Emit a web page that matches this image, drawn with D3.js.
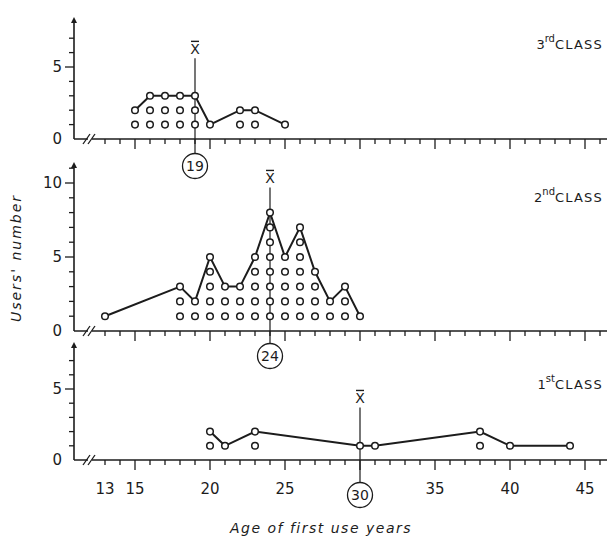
<!DOCTYPE html>
<html>
<head>
<meta charset="utf-8">
<script src="https://cdn.jsdelivr.net/npm/d3@7"></script>
<style>
  body { margin: 0; background: #fff; }
  text { font-family: "DejaVu Sans", sans-serif; fill: #1c1c1c; }
</style>
</head>
<body>
<div id="chart"></div>
<script>
// data: age of first use -> users' number
var ages3 = [15, 16, 17, 18, 19, 20, 22, 23, 25],
    counts3 = [2, 3, 3, 3, 3, 1, 2, 2, 1];
var ages2 = [13, 18, 19, 20, 21, 22, 23, 24, 25, 26, 27, 28, 29, 30],
    counts2 = [1, 3, 2, 5, 3, 3, 5, 8, 5, 7, 4, 2, 3, 1];
var ages1 = [20, 21, 23, 30, 31, 38, 40, 44],
    counts1 = [2, 1, 2, 1, 1, 2, 1, 1];
var means = [19, 24, 30];
var classNames = [["3", "rd"], ["2", "nd"], ["1", "st"]];
var xTickLabels = [13, 15, 20, 25, 35, 40, 45];
var yTickLabels = [[0, 5], [0, 5, 10], [0, 5]];

var width = 607, height = 539;

var svg = d3.select("#chart").append("svg")
    .attr("width", width)
    .attr("height", height);

var x = d3.scaleLinear().domain([13, 45]).range([105, 585]);
var axisX = 74;

// layout of the three panels (top to bottom)
var panels = [
  {ages: ages3, counts: counts3, mean: means[0], name: classNames[0], yTicks: yTickLabels[0],
   y0: 139, unit: 14.4, top: 15, maxTick: 7, meanTop: 5.6, circleDy: 27, labelY: 49},
  {ages: ages2, counts: counts2, mean: means[1], name: classNames[1], yTicks: yTickLabels[1],
   y0: 331, unit: 14.8, top: 160, maxTick: 11, meanTop: 9.7, circleDy: 25, labelY: 202},
  {ages: ages1, counts: counts1, mean: means[2], name: classNames[2], yTicks: yTickLabels[2],
   y0: 460, unit: 14.2, top: 340, maxTick: 7, meanTop: 3.7, circleDy: 35, labelY: 389}
];

var ink = "#1c1c1c";

// arrow head for the y axes
svg.append("defs").append("marker")
    .attr("id", "arrow")
    .attr("viewBox", "0 0 10 10")
    .attr("refX", 5).attr("refY", 10)
    .attr("markerWidth", 6).attr("markerHeight", 8)
    .attr("markerUnits", "userSpaceOnUse")
    .attr("orient", "0")
  .append("path")
    .attr("d", "M0,10 L5,0 L10,10 Z")
    .attr("fill", ink);

panels.forEach(function(p, pi) {
  var y = d3.scaleLinear().domain([0, 10]).range([p.y0, p.y0 - 10 * p.unit]);
  var g = svg.append("g");

  // y axis with arrow
  g.append("line")
      .attr("x1", axisX).attr("x2", axisX)
      .attr("y1", p.y0).attr("y2", p.top + 8)
      .attr("stroke", ink).attr("stroke-width", 1.6)
      .attr("marker-end", "url(#arrow)");

  g.selectAll(".ytick")
    .data(d3.range(1, p.maxTick + 1))
    .enter().append("line")
      .attr("x1", axisX)
      .attr("x2", function(d) { return d % 5 === 0 ? axisX - 9 : axisX - 5; })
      .attr("y1", function(d) { return y(d); })
      .attr("y2", function(d) { return y(d); })
      .attr("stroke", ink).attr("stroke-width", 1.3);

  g.selectAll(".ylab")
    .data(p.yTicks)
    .enter().append("text")
      .attr("x", axisX - 12)
      .attr("y", function(d) { return y(d) + 5; })
      .attr("text-anchor", "end")
      .attr("font-size", 15)
      .text(function(d) { return d; });

  // x axis with break mark
  g.append("line")
      .attr("x1", axisX).attr("x2", width)
      .attr("y1", p.y0).attr("y2", p.y0)
      .attr("stroke", ink).attr("stroke-width", 1.5);
  g.append("rect")
      .attr("x", 88).attr("y", p.y0 - 2).attr("width", 4).attr("height", 4)
      .attr("fill", "#fff");
  [86, 91].forEach(function(bx) {
    g.append("line")
        .attr("x1", bx - 3).attr("y1", p.y0 + 5)
        .attr("x2", bx + 4).attr("y2", p.y0 - 5)
        .attr("stroke", ink).attr("stroke-width", 1.3);
  });

  g.selectAll(".xtick")
    .data(d3.range(13, 48))
    .enter().append("line")
      .attr("x1", function(d) { return x(d); })
      .attr("x2", function(d) { return x(d); })
      .attr("y1", p.y0)
      .attr("y2", function(d) { return d % 5 === 0 ? p.y0 + 10 : p.y0 + 5; })
      .attr("stroke", ink).attr("stroke-width", 1.3);

  // mean marker
  var mx = x(p.mean), cy = p.y0 + p.circleDy, r = 12.5;
  g.append("line")
      .attr("x1", mx).attr("x2", mx)
      .attr("y1", y(p.meanTop)).attr("y2", cy - r)
      .attr("stroke", ink).attr("stroke-width", 1.2);
  g.append("text")
      .attr("x", mx).attr("y", y(p.meanTop) - 4)
      .attr("text-anchor", "middle")
      .attr("font-size", 14)
      .text("X");
  g.append("line")
      .attr("x1", mx - 4).attr("x2", mx + 4)
      .attr("y1", y(p.meanTop) - 17).attr("y2", y(p.meanTop) - 17)
      .attr("stroke", ink).attr("stroke-width", 1.4);
  g.append("circle")
      .attr("cx", mx).attr("cy", cy).attr("r", r)
      .attr("fill", "#fff").attr("stroke", ink).attr("stroke-width", 1.3);
  g.append("text")
      .attr("x", mx).attr("y", cy + 5)
      .attr("text-anchor", "middle")
      .attr("font-size", 14)
      .text(p.mean);

  // stacked dots, one per user
  var dots = [];
  p.ages.forEach(function(a, i) {
    for (var k = 1; k <= p.counts[i]; k++) dots.push([a, k]);
  });

  // line joining the column tops
  var line = d3.line()
      .x(function(d) { return x(d); })
      .y(function(d, i) { return y(p.counts[i]); });
  g.append("path")
      .datum(p.ages)
      .attr("d", line)
      .attr("fill", "none")
      .attr("stroke", ink).attr("stroke-width", 2);

  g.selectAll(".dot")
    .data(dots)
    .enter().append("circle")
      .attr("cx", function(d) { return x(d[0]); })
      .attr("cy", function(d) { return y(d[1]); })
      .attr("r", 3.3)
      .attr("fill", "#fff")
      .attr("stroke", ink).attr("stroke-width", 1.5);

  // class label
  var lab = g.append("text")
      .attr("x", 603).attr("y", p.labelY)
      .attr("text-anchor", "end")
      .attr("font-size", 13);
  lab.append("tspan").text(p.name[0]);
  lab.append("tspan").attr("dy", -7).attr("font-size", 10).text(p.name[1]);
  lab.append("tspan").attr("dy", 7).attr("letter-spacing", 1.2).text("CLASS");
});

// tick labels on the bottom axis only
svg.selectAll(".xlab")
  .data(xTickLabels)
  .enter().append("text")
    .attr("x", function(d) { return x(d); })
    .attr("y", 494)
    .attr("text-anchor", "middle")
    .attr("font-size", 15)
    .text(function(d) { return d; });

svg.append("text")
    .attr("x", 321).attr("y", 533)
    .attr("text-anchor", "middle")
    .attr("font-size", 14)
    .attr("font-style", "italic")
    .attr("letter-spacing", 1.5)
    .text("Age of first use years");

svg.append("text")
    .attr("transform", "translate(21,258) rotate(-90)")
    .attr("text-anchor", "middle")
    .attr("font-size", 14)
    .attr("font-style", "italic")
    .attr("letter-spacing", 2)
    .text("Users' number");
</script>
</body>
</html>
